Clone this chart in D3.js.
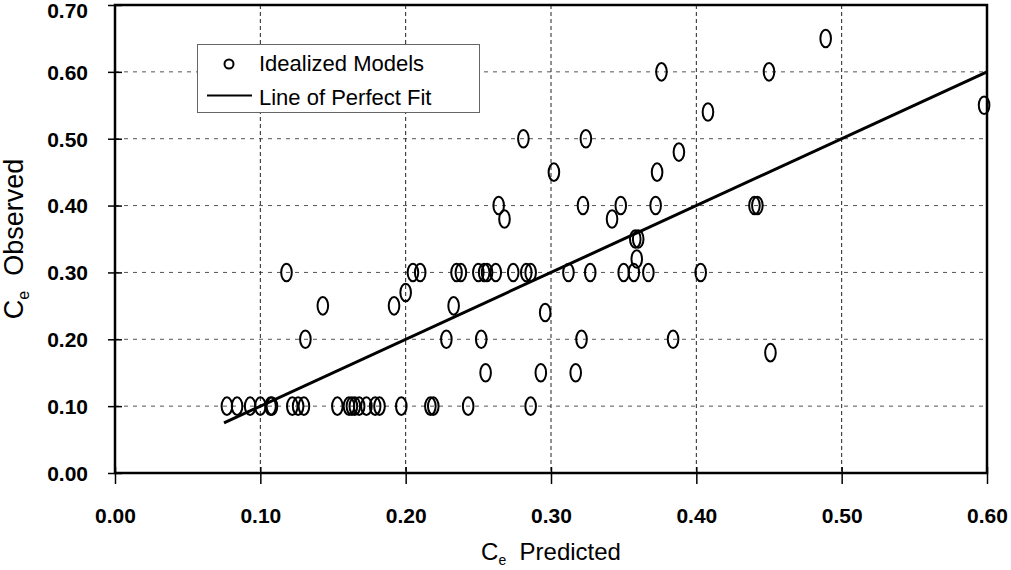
<!DOCTYPE html>
<html>
<head>
<meta charset="utf-8">
<script src="https://cdn.jsdelivr.net/npm/d3@7"></script>
<style>
  body { margin: 0; background: #fff; }
  text { font-family: "Liberation Sans", Arial, Helvetica, sans-serif; }
</style>
</head>
<body>
<div id="chart"></div>
<script>
// observed C_e levels and the predicted values that sit on each of them
var predicted = [
  0.077, 0.084, 0.093, 0.100, 0.107, 0.108, 0.122, 0.126, 0.130, 0.153, 0.161,
  0.163, 0.165, 0.168, 0.173, 0.179, 0.182, 0.197, 0.217, 0.219, 0.243, 0.286,
  0.255, 0.293, 0.317,
  0.451,
  0.131, 0.228, 0.252, 0.321, 0.384,
  0.296,
  0.143, 0.192, 0.233,
  0.200,
  0.118, 0.205, 0.210, 0.235, 0.238, 0.250, 0.254, 0.256, 0.262, 0.274, 0.283,
  0.286, 0.312, 0.327, 0.350, 0.357, 0.367, 0.403,
  0.359,
  0.358, 0.360,
  0.268, 0.342,
  0.264, 0.322, 0.348, 0.372, 0.440, 0.442,
  0.302, 0.373,
  0.388,
  0.281, 0.324,
  0.408,
  0.598,
  0.376, 0.450,
  0.489
];
var observed = [
  0.10, 0.10, 0.10, 0.10, 0.10, 0.10, 0.10, 0.10, 0.10, 0.10, 0.10,
  0.10, 0.10, 0.10, 0.10, 0.10, 0.10, 0.10, 0.10, 0.10, 0.10, 0.10,
  0.15, 0.15, 0.15,
  0.18,
  0.20, 0.20, 0.20, 0.20, 0.20,
  0.24,
  0.25, 0.25, 0.25,
  0.27,
  0.30, 0.30, 0.30, 0.30, 0.30, 0.30, 0.30, 0.30, 0.30, 0.30, 0.30,
  0.30, 0.30, 0.30, 0.30, 0.30, 0.30, 0.30,
  0.32,
  0.35, 0.35,
  0.38, 0.38,
  0.40, 0.40, 0.40, 0.40, 0.40, 0.40,
  0.45, 0.45,
  0.48,
  0.50, 0.50,
  0.54,
  0.55,
  0.60, 0.60,
  0.65
];
var fitLine = [0.075, 0.60];
var xTicks = [0, 0.1, 0.2, 0.3, 0.4, 0.5, 0.6];
var yTicks = [0, 0.1, 0.2, 0.3, 0.4, 0.5, 0.6, 0.7];
var seriesNames = ["Idealized Models", "Line of Perfect Fit"];

var width = 1011, height = 570;
var plotL = 115, plotR = 987, plotT = 5, plotB = 473;

var svg = d3.select("#chart").append("svg")
  .attr("width", width)
  .attr("height", height);

svg.append("rect").attr("width", width).attr("height", height).attr("fill", "#fff");

var x = d3.scaleLinear().domain([0, 0.6]).range([plotL, plotR]);
var y = d3.scaleLinear().domain([0, 0.7]).range([plotB, plotT]);
var fmt = d3.format(".2f");

// grid
svg.append("g")
  .selectAll("line")
  .data(yTicks.filter(function (d) { return d > 0 && d < 0.7; }))
  .enter().append("line")
  .attr("x1", plotL).attr("x2", plotR)
  .attr("y1", function (d) { return y(d); })
  .attr("y2", function (d) { return y(d); })
  .attr("stroke", "#555")
  .attr("stroke-width", 1)
  .attr("stroke-dasharray", "4,5");

svg.append("g")
  .selectAll("line")
  .data(xTicks.filter(function (d) { return d > 0 && d < 0.6; }))
  .enter().append("line")
  .attr("x1", function (d) { return x(d); })
  .attr("x2", function (d) { return x(d); })
  .attr("y1", plotT).attr("y2", plotB)
  .attr("stroke", "#222")
  .attr("stroke-width", 1)
  .attr("stroke-dasharray", "4,3");

// axes
var xAxis = svg.append("g")
  .attr("transform", "translate(0," + plotB + ")")
  .call(d3.axisBottom(x).tickValues(xTicks).tickFormat(fmt).tickSize(11).tickPadding(24));
var yAxis = svg.append("g")
  .attr("transform", "translate(" + plotL + ",0)")
  .call(d3.axisLeft(y).tickValues(yTicks).tickFormat(fmt).tickSize(7).tickPadding(20));

[xAxis, yAxis].forEach(function (a) {
  a.select(".domain").remove();
  a.selectAll(".tick line").attr("stroke", "#000").attr("stroke-width", 1.5);
  a.selectAll("text")
    .attr("fill", "#000")
    .style("font-size", "21px")
    .style("font-weight", "bold")
    .style("font-family", "'Liberation Sans', Arial, sans-serif");
});
xAxis.selectAll(".tick line").attr("y1", -6);
yAxis.selectAll(".tick line").attr("x2", 7).attr("x1", -7);
yAxis.selectAll(".tick text").attr("dy", function (d) {
  return d === 0.7 ? "0.6em" : "0.35em";
});

// frame
svg.append("rect")
  .attr("x", plotL).attr("y", plotT)
  .attr("width", plotR - plotL).attr("height", plotB - plotT)
  .attr("fill", "none")
  .attr("stroke", "#000")
  .attr("stroke-width", 2.5);

// line of perfect fit
svg.append("line")
  .attr("x1", x(fitLine[0])).attr("y1", y(fitLine[0]))
  .attr("x2", x(fitLine[1])).attr("y2", y(fitLine[1]))
  .attr("stroke", "#000")
  .attr("stroke-width", 3);

// points
svg.append("g")
  .selectAll("ellipse")
  .data(predicted.map(function (p, i) { return [p, observed[i]]; }))
  .enter().append("ellipse")
  .attr("cx", function (d) { return x(d[0]); })
  .attr("cy", function (d) { return y(d[1]); })
  .attr("rx", 5.3)
  .attr("ry", 8.8)
  .attr("fill", "none")
  .attr("stroke", "#000")
  .attr("stroke-width", 2);

// legend
var legend = svg.append("g");
legend.append("rect")
  .attr("x", 197.5).attr("y", 44.5)
  .attr("width", 282).attr("height", 68)
  .attr("fill", "#fff")
  .attr("stroke", "#666")
  .attr("stroke-width", 1);
legend.append("circle")
  .attr("cx", 229).attr("cy", 64).attr("r", 4.5)
  .attr("fill", "none").attr("stroke", "#000").attr("stroke-width", 2);
legend.append("line")
  .attr("x1", 207).attr("x2", 252).attr("y1", 95.5).attr("y2", 95.5)
  .attr("stroke", "#000").attr("stroke-width", 2);
legend.selectAll("text.lg")
  .data(seriesNames)
  .enter().append("text")
  .attr("class", "lg")
  .attr("x", 259)
  .attr("y", function (d, i) { return 71 + i * 34; })
  .style("font-size", "22px")
  .text(function (d) { return d; });

// axis titles
var xt = svg.append("text")
  .attr("x", (plotL + plotR) / 2)
  .attr("y", 560)
  .attr("text-anchor", "middle")
  .attr("xml:space", "preserve")
  .style("font-size", "24px");
xt.append("tspan").text("C");
xt.append("tspan").attr("dy", 5).style("font-size", "14px").text("e");
xt.append("tspan").attr("dy", -5).text("  Predicted");

var yt = svg.append("text")
  .attr("transform", "translate(23," + (plotT + plotB) / 2 + ") rotate(-90)")
  .attr("text-anchor", "middle")
  .attr("xml:space", "preserve")
  .style("font-size", "27px");
yt.append("tspan").text("C");
yt.append("tspan").attr("dy", 6).style("font-size", "16px").text("e");
yt.append("tspan").attr("dy", -6).text("  Observed");
</script>
</body>
</html>
